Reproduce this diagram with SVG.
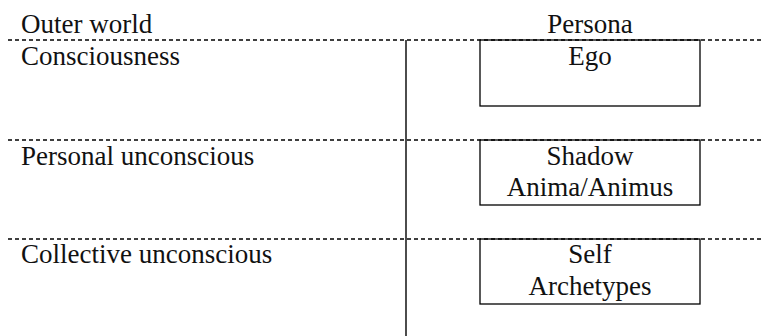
<svg xmlns="http://www.w3.org/2000/svg" width="764" height="336" viewBox="0 0 764 336">
<style>
text{font-family:"Liberation Serif","Times New Roman",serif;font-size:27px;fill:#111}
.c{text-anchor:middle}
.box{fill:none;stroke:#000;stroke-width:1.3}
.dash{stroke:#000;stroke-width:1.6;stroke-dasharray:4,3;fill:none}
.solid{stroke:#000;stroke-width:1.4;fill:none}
</style>
<rect width="764" height="336" fill="#fff"/>
<g id="connectors">
<line class="dash" x1="8" y1="40" x2="764" y2="40"/>
<line class="dash" x1="8" y1="140" x2="764" y2="140"/>
<line class="dash" x1="8" y1="239" x2="764" y2="239"/>
<line class="solid" x1="406" y1="40" x2="406" y2="336"/>
</g>
<g id="labels">
<text x="21" y="33">Outer world</text>
<text x="21" y="65">Consciousness</text>
<text x="21" y="165">Personal unconscious</text>
<text x="21" y="263">Collective unconscious</text>
<text class="c" x="590" y="33">Persona</text>
</g>
<g id="ego">
<rect class="box" x="480" y="40" width="220" height="66"/>
<text class="c" x="590" y="65">Ego</text>
</g>
<g id="shadow">
<rect class="box" x="480" y="140" width="220" height="65"/>
<text class="c" x="590" y="165">Shadow</text>
<text class="c" x="590" y="196">Anima/Animus</text>
</g>
<g id="self">
<rect class="box" x="480" y="239" width="220" height="65"/>
<text class="c" x="590" y="263">Self</text>
<text class="c" x="590" y="295">Archetypes</text>
</g>
</svg>
